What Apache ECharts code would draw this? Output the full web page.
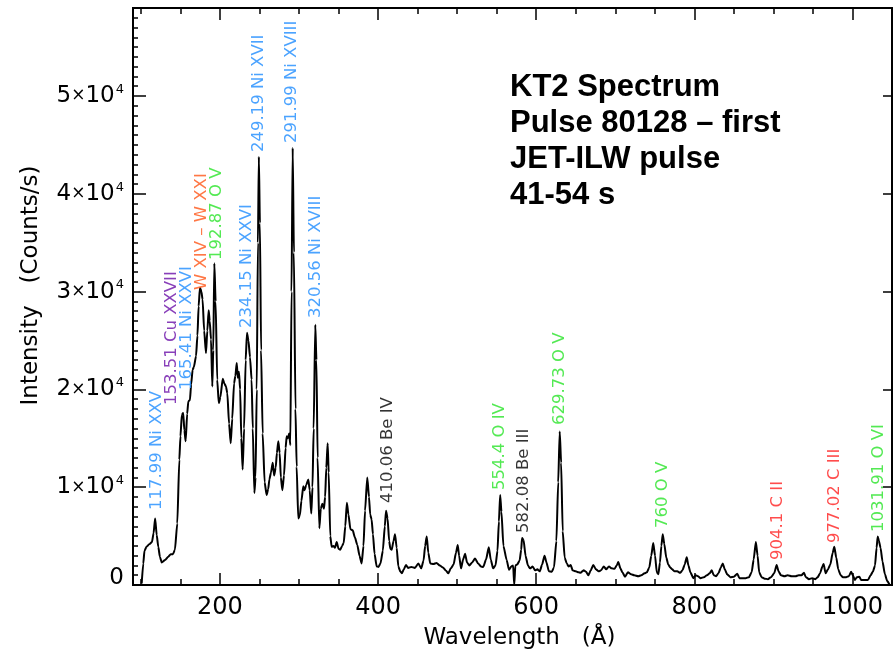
<!DOCTYPE html>
<html>
<head>
<meta charset="utf-8">
<script src="https://cdn.jsdelivr.net/npm/echarts@6/dist/echarts.min.js"></script>
<style>
  html, body { margin: 0; padding: 0; background: #ffffff; }
  #chart { width: 893px; height: 656px; }
</style>
</head>
<body>
<div id="chart"></div>
<script>
// KT2 VUV spectrum, pulse 80128, 41-54 s: wavelength (Å) and intensity (counts/s)
const wavelength = [
  101, 103, 104.5, 107, 111, 114, 116, 117.99, 120, 122, 124, 126.3, 130.5, 134.7, 137.7, 140.5, 143, 146, 148.6,
  150, 151.8, 153.51, 155, 156.6, 158.5, 160, 162, 163.5, 165.41, 167, 169.7, 171.5, 173, 174.7, 176.5, 178, 180,
  182.3, 184, 185.7, 187, 188.7, 190.3, 191.5, 192.87, 194.5, 196.5, 198.5, 200.5, 203.5, 205.5, 207.6, 209.3,
  211.5, 213.6, 215.5, 217.8, 219.5, 221.2, 222.5, 224, 225.5, 227, 228.7, 230.5, 232.5, 234.15, 236, 238, 240,
  241.5, 243.5, 245, 246.5, 248, 249.19, 250.5, 252, 254, 256.5, 259, 261, 262.5, 264.5, 266.7, 268.5, 270.5,
  272, 273.8, 275.5, 277, 278.9, 281, 283, 284.4, 286, 287.5, 289, 290.5, 291.99, 293.5, 295.5, 297, 299, 301,
  303, 305.4, 307, 309, 311.7, 313.5, 315.5, 317, 318.5, 320.56, 322, 323.5, 325.7, 327.5, 329.5, 331.5, 333,
  334.5, 336.2, 337.5, 339.5, 341.3, 343.5, 345.5, 347.6, 350, 352, 354.5, 356.5, 358.5, 360.5, 362.5, 365,
  367.9, 370.5, 373.7, 376.5, 379.2, 381.5, 383.5, 386.3, 388.5, 390, 391.8, 393.5, 395.5, 398.2, 400.5, 403,
  406, 408.5, 410.06, 412, 414, 415.5, 417.2, 419.5, 421.4, 423.5, 425.6, 428, 430, 432.5, 435.3, 438, 442,
  446.5, 450.9, 454.5, 457.5, 459.5, 461.5, 463.5, 466, 470, 474, 478, 482, 486, 488.8, 492, 495.5, 498.5,
  500.7, 502.5, 504.9, 507.5, 510, 512.5, 515.5, 519, 522.6, 526.5, 530, 533, 536.5, 540, 542.5, 545.5, 548.5,
  551, 552.8, 554.4, 556, 558.5, 562.6, 565.6, 568.5, 570.8, 572.2, 573.6, 576, 579, 581, 582.08, 584, 586.5,
  589.5, 592.2, 595.5, 598.5, 601.5, 604.5, 607.5, 610.5, 613, 616, 619.6, 622.5, 625.5, 627.8, 629.73, 631.5,
  633.5, 636, 638.6, 641, 643.6, 646, 650, 653.5, 656, 660, 663, 665.9, 669, 672.2, 675.5, 679, 682, 685.5,
  688.5, 692, 695.5, 699, 701.8, 703.8, 706.5, 709, 712.3, 716, 720, 724, 729, 733, 737, 740, 743, 745.5, 748,
  750.3, 752.5, 754.5, 756.5, 758.3, 760, 762, 764.5, 767, 769.5, 772, 775, 778.5, 782, 785, 787.8, 790.4,
  792.5, 795, 798.7, 801.5, 804.5, 808, 812, 816, 819.5, 822, 824.5, 827.5, 830.5, 833.5, 836, 838.5, 841.5,
  845.5, 850, 854.3, 857, 861, 865, 869, 872.5, 875, 877.8, 880, 882, 885, 889, 893, 897, 901, 904.1, 906.5,
  909.5, 914, 918, 923, 928, 932, 935.5, 938.7, 941, 945, 949, 953, 956, 959, 962, 963.5, 966, 969, 972, 975,
  977.02, 979.5, 982, 985, 988, 992, 995.5, 998.2, 1000.5, 1003, 1005.5, 1008.7, 1011, 1015, 1019.5, 1023,
  1026, 1028.5, 1030.5, 1031.91, 1033.5, 1035.5, 1038, 1041, 1044, 1047
];
const intensity = [
  150, 2200, 3500, 3900, 4200, 4400, 5300, 6800, 5100, 3900, 2900, 2300, 2550, 2900, 3150, 3150, 3600, 6300, 12800,
  15200, 17400, 17600, 15800, 14700, 17500, 18800, 18900, 20500, 22000, 22300, 23400, 25500, 28500, 30400, 30000, 29200, 26000,
  23700, 26000, 28100, 27000, 25100, 20300, 24000, 32900, 29000, 21000, 18600, 19200, 21100, 20600, 20300, 19600,
  16500, 14500, 17000, 20600, 21400, 22700, 21200, 21800, 20000, 15000, 11800, 16000, 23000, 25800, 25000, 23300, 21000,
  16000, 9400, 11000, 20000, 35000, 43800, 37000, 24000, 15500, 10500, 9200, 9800, 10800, 11500, 12500, 11200, 12000,
  13500, 14700, 13500, 11000, 9700, 11200, 14000, 15200, 15000, 15500, 14300, 30000, 44700, 34000, 18000, 12100, 6800, 7100,
  8600, 10100, 9700, 10200, 10800, 9700, 7300, 10000, 16000, 26600, 23000, 13000, 5800, 7800, 8300, 7800, 9000,
  12000, 14500, 11500, 5000, 3900, 4000, 3800, 4400, 3700, 3600, 4000, 4300, 6000, 8400, 7200, 5700,
  5600, 4900, 4100, 3000, 2200, 4000, 7600, 11000, 9000, 7200, 6700, 5200, 3200, 1900, 1850, 2200,
  3500, 6000, 7600, 6800, 4500, 3700, 3600, 4500, 5200, 3800, 1900, 1400, 1200, 1600, 2050, 1750, 1850,
  1750, 2200, 1700, 2500, 4000, 4950, 3300, 2200, 2150, 2250, 2000, 1800, 1450, 1200, 1700, 2100, 3300,
  4100, 3000, 1700, 2600, 3200, 2300, 2000, 2300, 2700, 2200, 1900, 1850, 2600, 3850, 2600, 1700, 2000,
  3500, 6500, 9200, 7500, 4000, 2560, 1550, 1900, 2000, 0, 2000, 2100, 2500, 3600, 4800, 4600, 3000,
  2000, 1700, 1900, 1500, 1600, 1400, 2100, 3000, 2300, 1400, 1350, 1800, 4500, 10500, 15700, 12500,
  5500, 2800, 2200, 1900, 2050, 1500, 1400, 1300, 1250, 1500, 1350, 1000, 1500, 2050, 1600, 1400, 1500, 1900,
  1600, 1900, 1700, 1650, 2000, 2350, 1700, 1300, 850, 1300, 1100, 1000, 900, 1000, 1200, 1300, 1800, 3000, 4300,
  3000, 1300, 1100, 2300, 4000, 5200, 4200, 2800, 2100, 1800, 1600, 1400, 1400, 1250, 1500, 2100, 2850,
  2000, 1300, 700, 1000, 900, 700, 800, 1000, 1200, 1500, 1000, 900, 1200, 1800, 2200, 1600, 1100,
  800, 850, 1150, 700, 700, 700, 800, 1300, 2600, 4400, 3000, 1300, 800, 650, 600, 800, 1200, 2050, 1400,
  1000, 900, 1000, 900, 900, 1000, 1000, 1250, 800, 600, 700, 600, 800, 1200, 1900, 2150, 1200, 1600, 2100, 3300,
  3900, 2800, 1600, 1000, 800, 800, 900, 1350, 1000, 500, 800, 850, 500, 500, 500, 1000,
  1400, 2000, 3800, 4950, 4500, 3800, 2400, 1100, 400, 0
];

// Identified emission lines and where each caption starts (data units)
const lineCaptions = [
  '117.99 Ni XXV', '153.51 Cu XXVII', '165.41 Ni XXVI', 'W XIV – W XXI', '192.87 O V',
  '234.15 Ni XXVI', '249.19 Ni XVII', '291.99 Ni XVIII', '320.56 Ni XVIII', '410.06 Be IV',
  '554.4 O IV', '582.08 Be III', '629.73 O V', '760 O V', '904.1 C II', '977.02 C III', '1031.91 O VI'
];
const lineSpecies = ['ni', 'cu', 'ni', 'w', 'o', 'ni', 'ni', 'ni', 'ni', 'be', 'o', 'be', 'o', 'o', 'c', 'c', 'o'];
const captionAnchorX = [120.4, 139.3, 158.3, 177.3, 196.2, 234.2, 249.4, 291.1, 321.5, 412.5, 554.2, 584.5, 630.1, 760.4, 905.8, 977.9, 1033.6];
const captionAnchorY = [7670, 18400, 19940, 30160, 33230, 26280, 44270, 45190, 27300, 8380, 9710, 5320, 16360, 5830, 2560, 4290, 5420];

// Axis tick positions
const xMajorTicks = [200, 400, 600, 800, 1000];
const xMinorTicks = [100, 150, 250, 300, 350, 450, 500, 550, 650, 700, 750, 850, 900, 950, 1050];
const yMajorTicks = [0, 10000, 20000, 30000, 40000, 50000];
const yMinorTicks = [];
for (let v = 1000; v < 59000; v += 1000) if (v % 10000 !== 0) yMinorTicks.push(v);

const speciesColor = { ni: '#1e8cff', cu: '#6a0fa8', w: '#ff5516', o: '#28e428', be: '#000000', c: '#ff1f1f' };

const FONT = 'DejaVu Sans';
const X_MIN = 90, X_MAX = 1050, Y_MIN = 0, Y_MAX = 59000;
const frame = { show: true, onZero: false, lineStyle: { color: '#000', width: 2 } };

function xAxisDef(position, ticks, len, labels) {
  return {
    type: 'value', position: position, min: X_MIN, max: X_MAX,
    axisLine: frame,
    axisTick: { show: true, inside: true, length: len, customValues: ticks, lineStyle: { color: '#000', width: 1.5 } },
    axisLabel: labels ? {
      show: true, customValues: ticks, margin: 11, color: '#000',
      fontFamily: FONT, fontSize: 24,
      formatter: function (v) { return String(v); }
    } : { show: false },
    splitLine: { show: false }
  };
}
function yAxisDef(position, ticks, len, labels) {
  return {
    type: 'value', position: position, min: Y_MIN, max: Y_MAX,
    axisLine: frame,
    axisTick: { show: true, inside: true, length: len, customValues: ticks, lineStyle: { color: '#000', width: 1.5 } },
    axisLabel: labels ? {
      show: true, customValues: ticks, margin: 9, color: '#000',
      formatter: function (v) {
        if (v === 0) return '{z|0}';
        return '{n|' + (v / 10000) + '}{x|×}{n|10}{s|4}';
      },
      rich: {
        n: { fontFamily: FONT, fontSize: 23, color: '#000', lineHeight: 26 },
        x: { fontFamily: FONT, fontSize: 17, color: '#000', lineHeight: 26 },
        s: { fontFamily: FONT, fontSize: 13, color: '#000', verticalAlign: 'top', lineHeight: 13, padding: [0, 0, 0, 1] },
        z: { fontFamily: FONT, fontSize: 23, color: '#000', lineHeight: 26, padding: [0, 0, 14, 0] }
      }
    } : { show: false },
    splitLine: { show: false }
  };
}

const xAxes = [
  xAxisDef('bottom', xMajorTicks, 12, true),
  xAxisDef('bottom', xMinorTicks, 6, false),
  xAxisDef('top', xMajorTicks, 12, false),
  xAxisDef('top', xMinorTicks, 6, false)
];
xAxes[0].name = 'Wavelength   (Å)';
xAxes[0].nameLocation = 'middle';
xAxes[0].nameGap = 42;
xAxes[0].nameTextStyle = { fontFamily: FONT, fontSize: 23, color: '#000', padding: [0, 0, 0, 14] };

const yAxes = [
  yAxisDef('left', yMajorTicks, 13, true),
  yAxisDef('left', yMinorTicks, 5, false),
  yAxisDef('right', yMajorTicks.slice(1), 9, false)
];
yAxes[0].name = 'Intensity   (Counts/s)';
yAxes[0].nameLocation = 'middle';
yAxes[0].nameGap = 90;
yAxes[0].nameTextStyle = { fontFamily: FONT, fontSize: 23, color: '#000', padding: [0, 0, 0, 22] };

const spectrum = wavelength.map(function (w, i) { return [w, intensity[i]]; });
const captions = lineCaptions.map(function (text, i) {
  return {
    name: text,
    value: [captionAnchorX[i], captionAnchorY[i]],
    label: { color: speciesColor[lineSpecies[i]] }
  };
});

const chart = echarts.init(document.getElementById('chart'), null, { renderer: 'canvas' });
chart.setOption({
  animation: false,
  backgroundColor: '#ffffff',
  title: {
    text: 'KT2 Spectrum\nPulse 80128 – first\nJET-ILW pulse\n41-54 s',
    left: 510, top: 69, padding: 0,
    textStyle: { fontFamily: 'Liberation Sans', fontWeight: 'bold', fontSize: 31, lineHeight: 36, color: '#000' }
  },
  grid: { left: 133, right: 1, top: 8, bottom: 71, containLabel: false, outerBoundsMode: 'none' },
  xAxis: xAxes,
  yAxis: yAxes,
  series: [
    {
      type: 'line', xAxisIndex: 0, yAxisIndex: 0,
      data: spectrum, showSymbol: false, symbol: 'none',
      smooth: 0.2, smoothMonotone: 'x',
      lineStyle: { color: '#000', width: 2 },
      silent: true, z: 3
    },
    {
      type: 'scatter', xAxisIndex: 0, yAxisIndex: 0,
      data: captions, symbolSize: 0, silent: true, z: 4,
      label: {
        show: true, formatter: '{b}', rotate: 90, position: [0, 0],
        align: 'left', verticalAlign: 'middle',
        fontFamily: FONT, fontSize: 16.5
      }
    }
  ]
});
</script>
</body>
</html>
